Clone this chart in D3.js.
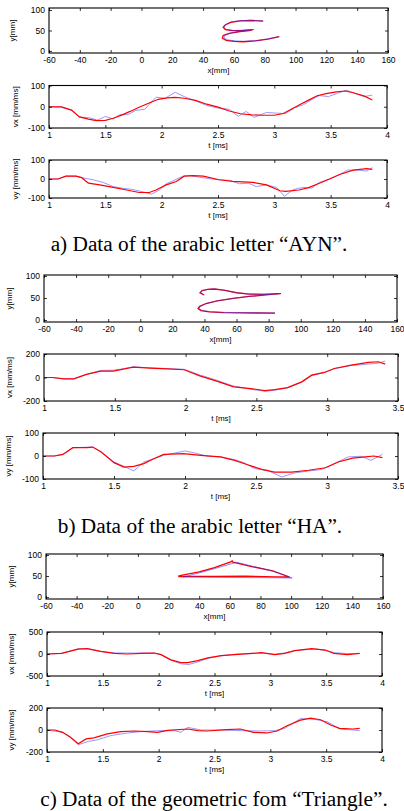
<!DOCTYPE html>
<html>
<head>
<meta charset="utf-8">
<script src="https://cdn.jsdelivr.net/npm/d3@7/dist/d3.min.js"></script>
<style>
  body { margin: 0; background: #fff; }
  svg { display: block; }
  .tick text { font-family: "Liberation Sans", Arial, sans-serif; font-size: 8.5px; fill: #000; }
  .lab { font-family: "Liberation Sans", Arial, sans-serif; font-size: 8px; fill: #000; }
  .cap { font-family: "Liberation Serif", "Times New Roman", serif; font-size: 21.3px; fill: #000; }
</style>
</head>
<body>
<div id="chart"></div>
<script>
// ---- a) letter "AYN" ----
// trajectory [x mm, y mm]
const aynXYBlue = [[79,73.5],[71,75],[64,74],[58,71],[55,65],[53.5,58.5],[55,52.5],[60,50],[67,51],[73,52.5],[70,51],[64,48],[58,44],[54,38.5],[53.5,32],[56,27],[61,24.5],[67,23.5],[75,25.5],[83,30],[89,35]];
const aynXYRed = [[79,73],[71,74.5],[64,73.5],[58,70],[54.5,64],[53,58],[54.5,52],[59,49.5],[66,50],[72,51.5],[70,50],[64,47],[57,43],[53,37.5],[52.5,31],[55,26],[60,23.5],[66,22.5],[74,24.5],[82,29],[89.5,35]];
// velocities [t ms, v mm/ms]
const aynVxBlue = [[1,0],[1.1,-1],[1.2,-16],[1.27,-48],[1.36,-52],[1.43,-63],[1.5,-46],[1.57,-57],[1.63,-37],[1.7,-37],[1.77,-17],[1.85,-12],[1.95,45],[2.03,40],[2.12,68],[2.2,48],[2.3,28],[2.4,6],[2.5,-6],[2.6,-12],[2.68,-45],[2.75,-22],[2.82,-50],[2.93,-27],[3.02,-30],[3.1,-32],[3.18,-5],[3.26,10],[3.34,36],[3.4,52],[3.48,48],[3.56,63],[3.64,78],[3.72,62],[3.8,48],[3.87,55]];
const aynVxRed = [[1,0],[1.11,-1],[1.2,-16],[1.27,-48],[1.35,-58],[1.42,-65],[1.5,-64],[1.57,-54],[1.65,-38],[1.72,-22],[1.8,-2],[1.9,20],[1.97,35],[2.05,42],[2.12,44],[2.2,40],[2.3,30],[2.4,12],[2.5,-2],[2.6,-20],[2.7,-33],[2.8,-38],[2.9,-40],[3.0,-40],[3.08,-32],[3.15,-12],[3.22,8],[3.3,30],[3.38,52],[3.46,62],[3.55,70],[3.63,74],[3.7,66],[3.8,50],[3.87,32]];
const aynVyBlue = [[1,0],[1.08,0],[1.15,15],[1.24,15],[1.3,6],[1.39,-4],[1.48,-18],[1.57,-40],[1.66,-49],[1.74,-55],[1.83,-67],[1.91,-80],[1.98,-58],[2.04,-25],[2.11,-7],[2.19,15],[2.26,18],[2.34,9],[2.42,2],[2.51,-4],[2.6,-7],[2.69,-25],[2.77,-22],[2.84,-40],[2.93,-31],[3.02,-44],[3.09,-91],[3.17,-55],[3.26,-44],[3.33,-49],[3.4,-18],[3.49,0],[3.58,24],[3.65,47],[3.74,47],[3.82,42],[3.87,60]];
const aynVyRed = [[1,0],[1.08,0],[1.15,15],[1.24,15],[1.29,7],[1.35,-22],[1.45,-31],[1.57,-44],[1.69,-58],[1.8,-71],[1.89,-71],[1.95,-58],[2.04,-31],[2.13,-13],[2.2,15],[2.28,18],[2.37,15],[2.51,-4],[2.63,-13],[2.81,-18],[2.93,-31],[3.05,-62],[3.1,-65],[3.22,-58],[3.31,-44],[3.4,-22],[3.49,0],[3.58,24],[3.7,47],[3.82,55],[3.87,51]];

// ---- b) letter "HA" ----
const haXYBlue = [[40,57],[37.6,62.2],[39,67.3],[42.5,69.8],[46.5,70.6],[52.5,67.6],[60.5,61.6],[68.5,58.8],[77.5,58.6],[87.5,60.4],[78.5,57.3],[68.5,54],[58.5,49.6],[48.5,44],[41.5,38],[37.5,31.4],[36.5,26.3],[38.3,22],[43.5,19],[52.5,17.3],[62.5,16.8],[72.5,16.5],[84,16]];
const haXYRed = [[39.7,56.8],[37.2,62],[38.5,67],[42,69.5],[46,70.5],[52,68],[60,62],[68,59],[77,58.5],[87.5,60],[78,57],[68,53.5],[58,49],[48,43.5],[41,37.5],[37,31],[36,26],[37.8,21.5],[43,18.5],[52,16.8],[62,16.3],[72,16],[84,15.5]];
const haVxBlue = [[1,0],[1.06,0],[1.14,-11],[1.21,-11],[1.3,26],[1.4,60],[1.49,62],[1.56,74],[1.63,91],[1.75,82],[1.87,76],[1.99,70],[2.1,22],[2.22,-23],[2.33,-70],[2.46,-100],[2.56,-117],[2.63,-108],[2.72,-88],[2.82,-40],[2.89,16],[2.98,43],[3.05,75],[3.17,103],[3.29,114],[3.36,122],[3.41,140]];
const haVxRed = [[1,0],[1.06,0],[1.14,-11],[1.21,-11],[1.3,26],[1.4,54],[1.49,54],[1.56,71],[1.63,89],[1.75,80],[1.87,74],[1.99,66],[2.1,14],[2.22,-31],[2.34,-80],[2.46,-94],[2.56,-111],[2.63,-103],[2.72,-86],[2.82,-37],[2.89,20],[2.98,43],[3.05,77],[3.17,106],[3.29,129],[3.36,134],[3.41,114]];
const haVyBlue = [[1,0],[1.08,0],[1.14,7],[1.21,36],[1.35,39],[1.41,17],[1.5,-26],[1.57,-45],[1.64,-65],[1.71,-26],[1.78,-12],[1.85,3],[1.93,13],[2,22],[2.07,13],[2.16,-1],[2.25,-4],[2.35,-16],[2.42,-30],[2.49,-55],[2.58,-62],[2.68,-91],[2.77,-74],[2.87,-65],[2.96,-59],[3.05,-33],[3.15,-4],[3.24,-1],[3.31,-19],[3.39,7]];
const haVyRed = [[1,0],[1.08,0],[1.14,7],[1.21,36],[1.31,36],[1.35,39],[1.41,17],[1.5,-29],[1.57,-48],[1.64,-45],[1.71,-33],[1.78,-12],[1.85,7],[1.99,10],[2.11,3],[2.25,-4],[2.35,-19],[2.44,-38],[2.54,-58],[2.63,-70],[2.75,-70],[2.87,-62],[2.99,-51],[3.08,-26],[3.18,-9],[3.27,-4],[3.33,0],[3.39,-7]];

// ---- c) form "Triangle" ----
const triXYBlue = [[29.6,47.7],[38,55.5],[50,67.5],[64.4,82.6],[75,73],[88,61.5],[100.7,45.3],[85,46],[65,46.5],[45,47],[29.6,47.7]];
const triXYRed = [[26.3,49.5],[29,52],[40,60],[50,70],[61,84],[61.5,86],[62,83],[75,72],[88,62],[99,47.7],[90,48.2],[70,49.5],[50,49.2],[35,49],[27.3,48.8],[26.3,49.5]];
const triVxBlue = [[1,0],[1.13,15],[1.28,120],[1.36,125],[1.48,60],[1.6,25],[1.72,22],[1.84,20],[1.96,22],[2.02,-10],[2.11,-140],[2.2,-225],[2.27,-239],[2.35,-180],[2.44,-100],[2.56,-40],[2.68,-5],[2.8,5],[2.92,22],[3.04,-5],[3.13,25],[3.22,80],[3.4,112],[3.49,90],[3.57,30],[3.69,10],[3.8,12]];
const triVxRed = [[1,0],[1.13,15],[1.28,112],[1.36,120],[1.48,60],[1.6,15],[1.72,0],[1.84,15],[1.96,22],[2.02,-15],[2.11,-134],[2.2,-194],[2.26,-194],[2.35,-150],[2.44,-90],[2.56,-37],[2.68,-15],[2.8,7],[2.92,30],[3.04,-15],[3.13,15],[3.22,75],[3.37,120],[3.49,90],[3.57,15],[3.69,-15],[3.8,15]];
const triVyBlue = [[1,0],[1.14,-21],[1.21,-66],[1.28,-134],[1.37,-104],[1.46,-87],[1.57,-51],[1.72,-27],[1.84,-15],[1.99,-6],[2.14,-6],[2.2,-21],[2.26,24],[2.38,0],[2.56,0],[2.74,-6],[2.92,-9],[3.04,-6],[3.13,15],[3.27,104],[3.39,98],[3.51,75],[3.62,10],[3.74,0],[3.8,-6]];
const triVyRed = [[1,0],[1.07,0],[1.14,-21],[1.21,-66],[1.28,-125],[1.35,-81],[1.42,-72],[1.54,-36],[1.66,-15],[1.78,-9],[1.9,-15],[1.99,-21],[2.08,-3],[2.26,9],[2.35,-6],[2.43,-9],[2.61,3],[2.73,9],[2.85,-21],[2.97,-27],[3.06,-9],[3.15,39],[3.27,90],[3.36,107],[3.45,93],[3.54,45],[3.62,15],[3.74,9],[3.8,15]];

// tick values
const xyTicksX = [-60, -40, -20, 0, 20, 40, 60, 80, 100, 120, 140, 160];
const xyTicksY = [0, 50, 100];
const tTicks4 = [1, 1.5, 2, 2.5, 3, 3.5, 4];
const tTicks35 = [1, 1.5, 2, 2.5, 3, 3.5];

const captions = [
  "a) Data of the arabic letter \u201CAYN\u201D.",
  "b) Data of the arabic letter \u201CHA\u201D.",
  "c) Data of the geometric fom \u201CTriangle\u201D."
];

const W = 404, H = 811;
const svg = d3.select("#chart").append("svg")
  .attr("width", W)
  .attr("height", H);

// one MATLAB style subplot: box, inward ticks on all sides, blue + red curve
function panel(o) {
  const g = svg.append("g");
  const x = d3.scaleLinear().domain(o.xDom).range([o.l, o.r]);
  const y = d3.scaleLinear().domain(o.yDom).range([o.b, o.t]);
  const line = d3.line().x(d => x(d[0])).y(d => y(d[1]));

  if (o.xy) {
    g.append("path").datum(o.red).attr("d", line)
      .attr("fill", "none").attr("stroke", "#ff0000").attr("stroke-width", 1.3);
    g.append("path").datum(o.blue).attr("d", line)
      .attr("fill", "none").attr("stroke", "#2a2aff").attr("stroke-width", 1).attr("opacity", 0.55);
  } else {
    g.append("path").datum(o.blue).attr("d", line)
      .attr("fill", "none").attr("stroke", "#8c8cff").attr("stroke-width", 0.9);
    g.append("path").datum(o.red).attr("d", line)
      .attr("fill", "none").attr("stroke", "#ff0000").attr("stroke-width", 1.2);
  }

  // plain hyphen minus, like the MATLAB labels
  const fmt = d => String(d);
  const bottom = g.append("g").attr("transform", `translate(0,${o.b})`)
    .call(d3.axisBottom(x).tickValues(o.xTicks).tickFormat(fmt).tickSize(-3).tickPadding(4));
  const left = g.append("g").attr("transform", `translate(${o.l},0)`)
    .call(d3.axisLeft(y).tickValues(o.yTicks).tickFormat(fmt).tickSize(-3).tickPadding(4));
  const top = g.append("g").attr("transform", `translate(0,${o.t})`)
    .call(d3.axisTop(x).tickValues(o.xTicks).tickFormat("").tickSize(-3));
  const right = g.append("g").attr("transform", `translate(${o.r},0)`)
    .call(d3.axisRight(y).tickValues(o.yTicks).tickFormat("").tickSize(-3));
  [bottom, left, top, right].forEach(a => {
    a.select(".domain").remove();
    a.selectAll(".tick line").attr("stroke", "#000").attr("stroke-width", 0.8);
  });

  g.append("rect")
    .attr("x", o.l).attr("y", o.t)
    .attr("width", o.r - o.l).attr("height", o.b - o.t)
    .attr("fill", "none").attr("stroke", "#000").attr("stroke-width", 1.1);

  g.append("text").attr("class", "lab")
    .attr("x", (o.l + o.r) / 2).attr("y", o.b + 20)
    .attr("text-anchor", "middle")
    .text(o.xLabel);

  g.append("text").attr("class", "lab")
    .attr("transform", `translate(${o.yLabX},${(o.t + o.b) / 2}) rotate(-90)`)
    .attr("text-anchor", "middle")
    .text(o.yLabel);
}

// a)
panel({ l: 49, r: 388, t: 8, b: 53, xDom: [-60, 160], yDom: [-5, 105], xTicks: xyTicksX, yTicks: xyTicksY,
  red: aynXYRed, blue: aynXYBlue, xy: true, xLabel: "x[mm]", yLabel: "y[mm]", yLabX: 15 });
panel({ l: 49, r: 387, t: 85.5, b: 128, xDom: [1, 4], yDom: [-100, 100], xTicks: tTicks4, yTicks: [-100, 0, 100],
  red: aynVxRed, blue: aynVxBlue, xLabel: "t [ms]", yLabel: "vx [mm/ms]", yLabX: 18 });
panel({ l: 49, r: 387, t: 160, b: 198, xDom: [1, 4], yDom: [-100, 100], xTicks: tTicks4, yTicks: [-100, 0, 100],
  red: aynVyRed, blue: aynVyBlue, xLabel: "t [ms]", yLabel: "vy [mm/ms]", yLabX: 18 });

// b)
panel({ l: 44, r: 397, t: 275, b: 322, xDom: [-60, 160], yDom: [-4.5, 102.3], xTicks: xyTicksX, yTicks: xyTicksY,
  red: haXYRed, blue: haXYBlue, xy: true, xLabel: "x[mm]", yLabel: "y[mm]", yLabX: 12 });
panel({ l: 44, r: 398, t: 354, b: 401, xDom: [1, 3.5], yDom: [-200, 200], xTicks: tTicks35, yTicks: [-200, 0, 200],
  red: haVxRed, blue: haVxBlue, xLabel: "t [ms]", yLabel: "vx [mm/ms]", yLabX: 12 });
panel({ l: 43, r: 398, t: 433, b: 479, xDom: [1, 3.5], yDom: [-100, 100], xTicks: tTicks35, yTicks: [-100, 0, 100],
  red: haVyRed, blue: haVyBlue, xLabel: "t [ms]", yLabel: "vy [mm/ms]", yLabX: 11 });

// c)
panel({ l: 46, r: 383, t: 554, b: 599, xDom: [-60, 160], yDom: [-4.5, 102.3], xTicks: xyTicksX, yTicks: xyTicksY,
  red: triXYRed, blue: triXYBlue, xy: true, xLabel: "x[mm]", yLabel: "y[mm]", yLabX: 14 });
panel({ l: 47, r: 382, t: 632, b: 676, xDom: [1, 4], yDom: [-500, 500], xTicks: tTicks4, yTicks: [-500, 0, 500],
  red: triVxRed, blue: triVxBlue, xLabel: "t [ms]", yLabel: "vx [mm/ms]", yLabX: 14 });
panel({ l: 47, r: 382, t: 708, b: 752, xDom: [1, 4], yDom: [-200, 200], xTicks: tTicks4, yTicks: [-200, 0, 200],
  red: triVyRed, blue: triVyBlue, xLabel: "t [ms]", yLabel: "vy [mm/ms]", yLabX: 14 });

// captions
const capPos = [[199, 251], [200, 533], [214, 806]];
svg.selectAll("text.cap").data(captions).enter().append("text")
  .attr("class", "cap")
  .attr("x", (d, i) => capPos[i][0])
  .attr("y", (d, i) => capPos[i][1])
  .attr("text-anchor", "middle")
  .text(d => d);
</script>
</body>
</html>
